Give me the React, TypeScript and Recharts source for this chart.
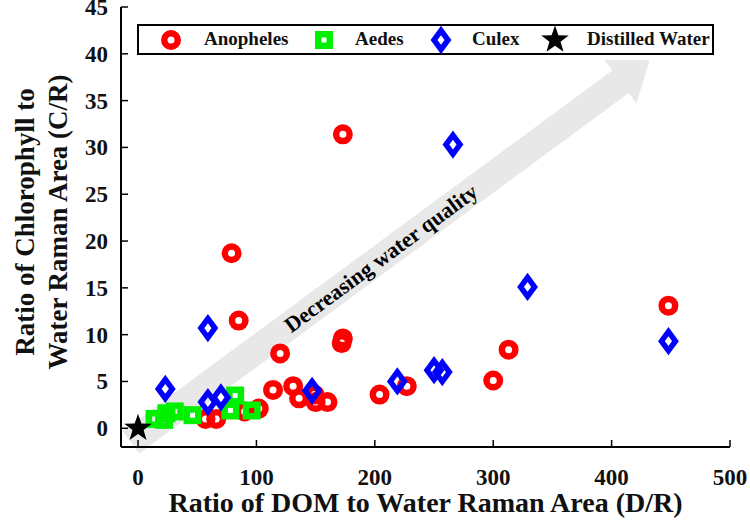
import {
  ScatterChart, Scatter, XAxis, YAxis, ReferenceLine,
} from 'recharts'

// D/R (x) vs C/R (y) per larval habitat group
const anopheles = [
  { x: 173, y: 31.4 }, { x: 79, y: 18.7 }, { x: 85, y: 11.5 }, { x: 120, y: 8.0 },
  { x: 172, y: 9.1 }, { x: 173, y: 9.6 }, { x: 114, y: 4.1 }, { x: 131, y: 4.5 },
  { x: 136, y: 3.2 }, { x: 149, y: 3.6 }, { x: 150, y: 2.8 }, { x: 160, y: 2.8 },
  { x: 102, y: 2.1 }, { x: 90, y: 1.8 }, { x: 57, y: 1.0 }, { x: 66, y: 1.0 },
  { x: 204, y: 3.6 }, { x: 227, y: 4.5 }, { x: 300, y: 5.1 }, { x: 313, y: 8.4 },
  { x: 448, y: 13.1 },
]

const aedes = [
  { x: 14, y: 1.0 }, { x: 22, y: 0.9 }, { x: 24, y: 1.6 }, { x: 31, y: 1.8 },
  { x: 46, y: 1.4 }, { x: 78, y: 1.9 }, { x: 82, y: 3.5 }, { x: 96, y: 1.9 },
]

const culex = [
  { x: 23, y: 4.2 }, { x: 59, y: 10.7 }, { x: 59, y: 2.8 }, { x: 70, y: 3.3 },
  { x: 147, y: 4.0 }, { x: 219, y: 5.0 }, { x: 250, y: 6.2 }, { x: 257, y: 6.0 },
  { x: 266, y: 30.3 }, { x: 329, y: 15.1 }, { x: 448, y: 9.3 },
]

const distilled = [{ x: 0, y: 0 }]

const xTicks = [0, 100, 200, 300, 400, 500]
const yTicks = [0, 5, 10, 15, 20, 25, 30, 35, 40, 45]

// arrow annotation, in data units
const arrowFrom = { x: -6, y: -1.5 }
const arrowTo = { x: 432, y: 39.3 }
const arrowText = 'Decreasing water quality'

const SERIF = "'Liberation Serif', 'Times New Roman', serif"
const RED = '#ff0000'
const GREEN = '#00f000'
const BLUE = '#0000ff'

const tickText = { fontFamily: SERIF, fontWeight: 700, fontSize: 23, fill: '#111' }

const BottomTick = ({ x, y, payload }: any) => (
  <g>
    <line x1={x} y1={y} x2={x} y2={y - 7} stroke="#000" strokeWidth={1.5} />
    <text x={x} y={y + 38} textAnchor="middle" style={tickText}>{payload.value}</text>
  </g>
)
const TopTick = ({ x, y }: any) => (
  <line x1={x} y1={y} x2={x} y2={y + 7} stroke="#000" strokeWidth={1.5} />
)
const LeftTick = ({ x, y, payload }: any) => (
  <g>
    <line x1={x} y1={y} x2={x + 7} y2={y} stroke="#000" strokeWidth={1.5} />
    <text x={x - 13} y={y + 8} textAnchor="end" style={tickText}>{payload.value}</text>
  </g>
)
const RightTick = ({ x, y }: any) => (
  <line x1={x} y1={y} x2={x - 7} y2={y} stroke="#000" strokeWidth={1.5} />
)

const Ring = ({ cx, cy }: any) => (
  <circle cx={cx} cy={cy} r={6.75} fill="none" stroke={RED} strokeWidth={6.5} />
)
const Box = ({ cx, cy }: any) => (
  <rect x={cx - 5.75} y={cy - 5.75} width={11.5} height={11.5} fill="none" stroke={GREEN} strokeWidth={6.5} />
)
const Diamond = ({ cx, cy }: any) => (
  <polygon
    points={`${cx},${cy - 9.5} ${cx + 7},${cy} ${cx},${cy + 9.5} ${cx - 7},${cy}`}
    fill="none" stroke={BLUE} strokeWidth={5.5}
  />
)
function starPoints(cx: number, cy: number, R: number, r: number) {
  const pts: string[] = []
  for (let i = 0; i < 10; i++) {
    const a = -Math.PI / 2 + (i * Math.PI) / 5
    const rad = i % 2 === 0 ? R : r
    pts.push(`${cx + rad * Math.cos(a)},${cy + rad * Math.sin(a)}`)
  }
  return pts.join(' ')
}
const Star = ({ cx, cy }: any) => <polygon points={starPoints(cx, cy, 14.5, 5.8)} fill="#000" />

const ArrowShape = ({ x1, y1, x2, y2 }: any) => {
  const dx = x2 - x1
  const dy = y2 - y1
  const len = Math.sqrt(dx * dx + dy * dy)
  const ux = dx / len
  const uy = dy / len
  const nx = -uy
  const ny = ux
  const bw = 14
  const hl = 36
  const hw = 27
  const bx = x2 - ux * hl
  const by = y2 - uy * hl
  const p = [
    [x1 + nx * bw, y1 + ny * bw],
    [bx + nx * bw, by + ny * bw],
    [bx + nx * hw, by + ny * hw],
    [x2, y2],
    [bx - nx * hw, by - ny * hw],
    [bx - nx * bw, by - ny * bw],
    [x1 - nx * bw, y1 - ny * bw],
  ]
  const t = 0.482
  const tx = x1 + dx * t
  const ty = y1 + dy * t
  const ang = (Math.atan2(dy, dx) * 180) / Math.PI
  return (
    <g>
      <polygon points={p.map((q) => q.join(',')).join(' ')} fill="#e8e8e8" />
      <text
        x={tx} y={ty} textAnchor="middle" dominantBaseline="central"
        transform={`rotate(${ang}, ${tx}, ${ty})`}
        style={{ fontFamily: SERIF, fontWeight: 700, fontSize: 22, fill: '#000' }}
      >
        {arrowText}
      </text>
    </g>
  )
}

const XTitle = ({ viewBox }: any) => (
  <text
    x={viewBox.x + viewBox.width / 2} y={viewBox.y + 65} textAnchor="middle"
    style={{ fontFamily: SERIF, fontWeight: 700, fontSize: 28, fill: '#111' }}
  >
    Ratio of DOM to Water Raman Area (D/R)
  </text>
)
const YTitle = ({ viewBox }: any) => {
  const cy = viewBox.y + viewBox.height / 2 - 5
  const st = { fontFamily: SERIF, fontWeight: 700, fontSize: 27, fill: '#111' }
  return (
    <g>
      <text x={25} y={cy} textAnchor="middle" dominantBaseline="central" transform={`rotate(-90, 25, ${cy})`} style={st}>
        Ratio of Chlorophyll to
      </text>
      <text x={58} y={cy} textAnchor="middle" dominantBaseline="central" transform={`rotate(-90, 58, ${cy})`} style={st}>
        Water Raman Area (C/R)
      </text>
    </g>
  )
}

// icon centre / text start, measured from the legend box's inner left edge
const legendItems = [
  { name: 'Anopheles', icon: 'ring', iconAt: 32, textAt: 65 },
  { name: 'Aedes', icon: 'box', iconAt: 185, textAt: 216 },
  { name: 'Culex', icon: 'diamond', iconAt: 302, textAt: 333 },
  { name: 'Distilled Water', icon: 'star', iconAt: 416, textAt: 448 },
]

function LegendIcon({ kind }: { kind: string }) {
  return (
    <svg width={30} height={30} style={{ display: 'block' }}>
      {kind === 'ring' && <Ring cx={15} cy={15} />}
      {kind === 'box' && <Box cx={15} cy={15} />}
      {kind === 'diamond' && <Diamond cx={15} cy={15} />}
      {kind === 'star' && <Star cx={15} cy={15} />}
    </svg>
  )
}

function ChartLegend() {
  return (
    <div
      style={{
        position: 'absolute', left: 137, top: 24, width: 577, height: 31,
        boxSizing: 'border-box', border: '2px solid #000', background: '#fff',
        fontFamily: SERIF, fontWeight: 700, fontSize: 19, color: '#111',
      }}
    >
      {legendItems.map((it) => (
        <div key={it.name}>
          <div style={{ position: 'absolute', left: it.iconAt - 15, top: -1.5 }}>
            <LegendIcon kind={it.icon} />
          </div>
          <span style={{ position: 'absolute', left: it.textAt, top: 2, lineHeight: '22px', whiteSpace: 'nowrap' }}>
            {it.name}
          </span>
        </div>
      ))}
    </div>
  )
}

export default function App() {
  return (
    <div style={{ position: 'absolute', left: 0, top: 0, width: 750, height: 525, background: '#fff' }}>
      <ScatterChart width={750} height={525} margin={{ top: 7, right: 20, bottom: 0, left: 0 }}>
        <XAxis
          xAxisId={0} type="number" dataKey="x" domain={[-14.4, 500]} ticks={xTicks}
          allowDataOverflow height={78} tickSize={0} tickMargin={0}
          axisLine={{ stroke: '#000', strokeWidth: 2 }} tickLine={false}
          tick={<BottomTick />} interval={0}
          label={{ content: XTitle }}
        />
        <XAxis
          xAxisId="top" orientation="top" type="number" domain={[-14.4, 500]} ticks={xTicks}
          allowDataOverflow height={0} tickSize={0} tickMargin={0}
          axisLine={{ stroke: '#000', strokeWidth: 2 }} tickLine={false}
          tick={<TopTick />} interval={0}
        />
        <YAxis
          yAxisId={0} type="number" dataKey="y" domain={[-2, 45]} ticks={yTicks}
          allowDataOverflow width={121} tickSize={0} tickMargin={0}
          axisLine={{ stroke: '#000', strokeWidth: 2 }} tickLine={false}
          tick={<LeftTick />} interval={0}
          label={{ content: YTitle }}
        />
        <YAxis
          yAxisId="right" orientation="right" type="number" domain={[-2, 45]} ticks={yTicks}
          allowDataOverflow width={0} tickSize={0} tickMargin={0}
          axisLine={{ stroke: '#000', strokeWidth: 2 }} tickLine={false}
          tick={<RightTick />} interval={0}
        />
        <ReferenceLine
          xAxisId={0} yAxisId={0}
          segment={[arrowFrom, arrowTo]} ifOverflow="visible"
          shape={ArrowShape}
        />
        <Scatter name="Anopheles" data={anopheles} shape={Ring} isAnimationActive={false} />
        <Scatter name="Aedes" data={aedes} shape={Box} isAnimationActive={false} />
        <Scatter name="Culex" data={culex} shape={Diamond} isAnimationActive={false} />
        <Scatter name="Distilled Water" data={distilled} shape={Star} isAnimationActive={false} />
      </ScatterChart>
      <ChartLegend />
    </div>
  )
}
